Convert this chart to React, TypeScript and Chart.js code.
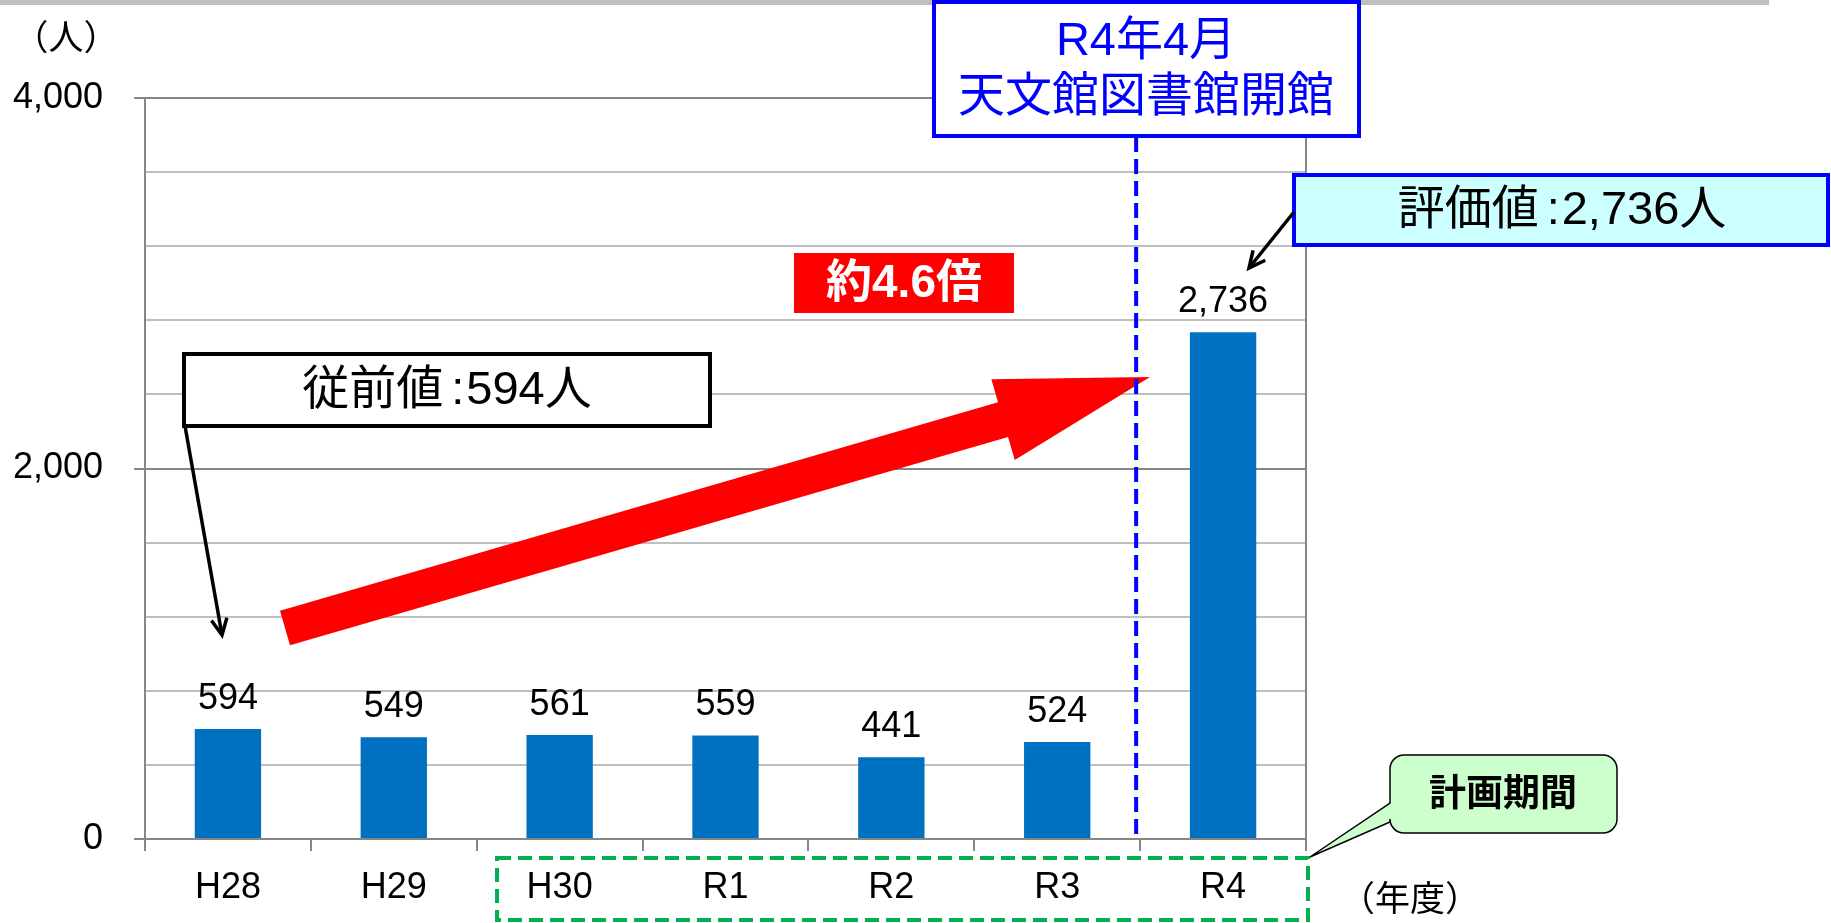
import React, { useEffect, useRef } from 'react';
import { Chart, registerables } from 'chart.js';

Chart.register(...registerables);

const categories = ['H28', 'H29', 'H30', 'R1', 'R2', 'R3', 'R4'];
const visitors = [594, 549, 561, 559, 441, 524, 2736];
const yMin = 0;
const yMax = 4000;
const yStep = 400;
const yLabelValues = [0, 2000, 4000];
const yUnit = '（人）';
const xUnit = '（年度）';
const openingLines = ['R4年4月', '天文館図書館開館'];
const beforeText = '従前値:594人';
const afterText = '評価値:2,736人';
const ratioText = '約4.6倍';
const planText = '計画期間';

const FONT = '"Liberation Sans", Arial, "Noto Sans CJK JP", sans-serif';
const BAR = '#0070C0';
const AXIS = '#868686';
const GRID = '#BFBFBF';

function line(ctx: CanvasRenderingContext2D, x1: number, y1: number, x2: number, y2: number) {
  ctx.beginPath();
  ctx.moveTo(x1, y1);
  ctx.lineTo(x2, y2);
  ctx.stroke();
}

function arrowLine(ctx: CanvasRenderingContext2D, x1: number, y1: number, x2: number, y2: number) {
  line(ctx, x1, y1, x2, y2);
  const a = Math.atan2(y2 - y1, x2 - x1);
  const len = 18;
  const spread = 0.45;
  ctx.beginPath();
  ctx.moveTo(x2 - len * Math.cos(a - spread), y2 - len * Math.sin(a - spread));
  ctx.lineTo(x2, y2);
  ctx.lineTo(x2 - len * Math.cos(a + spread), y2 - len * Math.sin(a + spread));
  ctx.stroke();
}

// draws label text with the colon given small side gaps, as in the source
function labelWithColon(ctx: CanvasRenderingContext2D, text: string, cx: number, cy: number) {
  const [a, b] = text.split(':');
  const gapL = 8;
  const gapR = 2;
  const wa = ctx.measureText(a).width;
  const wc = ctx.measureText(':').width;
  const wb = ctx.measureText(b).width;
  const total = wa + gapL + wc + gapR + wb;
  let x = cx - total / 2;
  ctx.textAlign = 'left';
  ctx.fillText(a, x, cy);
  x += wa + gapL;
  ctx.fillText(':', x, cy);
  x += wc + gapR;
  ctx.fillText(b, x, cy);
  ctx.textAlign = 'center';
}

const annotationPlugin = {
  id: 'annotationPlugin',
  afterDatasetsDraw(chart: any) {
    const ctx: CanvasRenderingContext2D = chart.ctx;
    const meta = chart.getDatasetMeta(0);
    ctx.save();
    ctx.font = `36px ${FONT}`;
    ctx.fillStyle = '#000';
    ctx.textAlign = 'center';
    ctx.textBaseline = 'alphabetic';
    meta.data.forEach((bar: any, i: number) => {
      ctx.fillText(visitors[i].toLocaleString('en-US'), bar.x, bar.y - 20);
    });
    ctx.restore();
  },
  afterDraw(chart: any) {
    const ctx: CanvasRenderingContext2D = chart.ctx;
    const { top, bottom, right } = chart.chartArea;
    const xs = chart.scales.x;
    ctx.save();

    // top gray band
    ctx.fillStyle = '#BFBFBF';
    ctx.fillRect(0, 0, 1769, 5);

    // right border of plot
    ctx.strokeStyle = AXIS;
    ctx.lineWidth = 2;
    line(ctx, right, top, right, bottom);

    // big red block arrow
    const T = { x: 285, y: 628 };
    const P = { x: 1150, y: 377 };
    const dx = P.x - T.x;
    const dy = P.y - T.y;
    const L = Math.hypot(dx, dy);
    const ux = dx / L;
    const uy = dy / L;
    const nx = -uy;
    const ny = ux;
    const hw = 18;
    const headLen = 153;
    const headHw = 42;
    const Bx = P.x - headLen * ux;
    const By = P.y - headLen * uy;
    ctx.fillStyle = '#FF0000';
    ctx.beginPath();
    ctx.moveTo(T.x + nx * hw, T.y + ny * hw);
    ctx.lineTo(Bx + nx * hw, By + ny * hw);
    ctx.lineTo(Bx + nx * headHw, By + ny * headHw);
    ctx.lineTo(P.x, P.y);
    ctx.lineTo(Bx - nx * headHw, By - ny * headHw);
    ctx.lineTo(Bx - nx * hw, By - ny * hw);
    ctx.lineTo(T.x - nx * hw, T.y - ny * hw);
    ctx.closePath();
    ctx.fill();

    // blue dashed divider between R3 and R4
    const divX = (xs.getPixelForValue(5) + xs.getPixelForValue(6)) / 2 - 4;
    ctx.strokeStyle = '#0000FF';
    ctx.lineWidth = 4;
    ctx.setLineDash([15, 7]);
    line(ctx, divX, 137, divX, bottom - 3);
    ctx.setLineDash([]);

    // opening box
    ctx.fillStyle = '#FFFFFF';
    ctx.fillRect(934, 2, 425, 134);
    ctx.strokeStyle = '#0000FF';
    ctx.lineWidth = 4;
    ctx.strokeRect(934, 2, 425, 134);
    ctx.fillStyle = '#0000FF';
    ctx.textAlign = 'center';
    ctx.textBaseline = 'middle';
    ctx.font = `47px ${FONT}`;
    ctx.fillText(openingLines[0], 1146, 42);
    ctx.fillText(openingLines[1], 1146, 98);

    // evaluation value box
    ctx.fillStyle = '#CCFFFF';
    ctx.fillRect(1294, 175, 534, 70);
    ctx.strokeStyle = '#0000FF';
    ctx.lineWidth = 4;
    ctx.strokeRect(1294, 175, 534, 70);
    ctx.fillStyle = '#000';
    ctx.font = `47px ${FONT}`;
    labelWithColon(ctx, afterText, 1562, 211);
    ctx.strokeStyle = '#000';
    ctx.lineWidth = 3.5;
    arrowLine(ctx, 1294, 212, 1249, 268);

    // ratio label
    ctx.fillStyle = '#FF0000';
    ctx.fillRect(794, 253, 220, 60);
    ctx.fillStyle = '#FFFFFF';
    ctx.font = `bold 46px ${FONT}`;
    ctx.fillText(ratioText, 904, 284);

    // previous value box
    ctx.fillStyle = '#FFFFFF';
    ctx.fillRect(184, 354, 526, 72);
    ctx.strokeStyle = '#000';
    ctx.lineWidth = 4;
    ctx.strokeRect(184, 354, 526, 72);
    ctx.fillStyle = '#000';
    ctx.font = `47px ${FONT}`;
    labelWithColon(ctx, beforeText, 447, 391);
    ctx.lineWidth = 3.5;
    arrowLine(ctx, 185, 426, 222, 635);

    // plan period dashed frame
    ctx.strokeStyle = '#00B050';
    ctx.lineWidth = 4;
    ctx.setLineDash([14, 7]);
    ctx.strokeRect(497, 858, 811, 62);
    ctx.setLineDash([]);

    // plan period callout
    const bxl = 1390, byt = 755, bxr = 1617, byb = 833, r = 14;
    ctx.beginPath();
    ctx.moveTo(bxl + r, byt);
    ctx.lineTo(bxr - r, byt);
    ctx.arcTo(bxr, byt, bxr, byt + r, r);
    ctx.lineTo(bxr, byb - r);
    ctx.arcTo(bxr, byb, bxr - r, byb, r);
    ctx.lineTo(bxl + r, byb);
    ctx.arcTo(bxl, byb, bxl, byb - r, r);
    ctx.lineTo(bxl, 822);
    ctx.lineTo(1310, 857);
    ctx.lineTo(bxl, 803);
    ctx.lineTo(bxl, byt + r);
    ctx.arcTo(bxl, byt, bxl + r, byt, r);
    ctx.closePath();
    ctx.fillStyle = '#CCFFCC';
    ctx.fill();
    ctx.strokeStyle = '#000';
    ctx.lineWidth = 1.5;
    ctx.stroke();
    ctx.fillStyle = '#000';
    ctx.font = `bold 37px ${FONT}`;
    ctx.fillText(planText, 1503, 796);

    // unit labels
    ctx.font = `35px ${FONT}`;
    ctx.fillText(yUnit, 66, 40);
    ctx.fillText(xUnit, 1410, 901);

    ctx.restore();
  },
};

export default function App() {
  const canvasRef = useRef<HTMLCanvasElement | null>(null);

  useEffect(() => {
    if (!canvasRef.current) return;
    const chart = new Chart(canvasRef.current, {
      type: 'bar',
      data: {
        labels: categories,
        datasets: [
          {
            data: visitors,
            backgroundColor: BAR,
            borderWidth: 0,
            barPercentage: 0.4,
            categoryPercentage: 1.0,
          },
        ],
      },
      options: {
        responsive: false,
        animation: false,
        events: [],
        layout: { padding: { top: 98, right: 525, left: 0, bottom: 0 } },
        plugins: {
          legend: { display: false },
          tooltip: { enabled: false },
          title: { display: false },
        },
        scales: {
          x: {
            offset: true,
            grid: {
              offset: true,
              drawOnChartArea: false,
              drawTicks: true,
              tickLength: 12,
              color: AXIS,
              lineWidth: 2,
            },
            border: { color: AXIS, width: 2 },
            ticks: {
              font: { size: 36, family: FONT },
              color: '#000',
              padding: 15,
              maxRotation: 0,
              autoSkip: false,
            },
            afterFit(scale: any) {
              scale.height = 84;
            },
          },
          y: {
            min: yMin,
            max: yMax,
            ticks: {
              stepSize: yStep,
              autoSkip: false,
              font: { size: 36, family: FONT },
              color: '#000',
              padding: 31,
              callback: (v: any) => (yLabelValues.includes(Number(v)) ? Number(v).toLocaleString('en-US') : ''),
            },
            grid: {
              color: (c: any) => (c.tick && yLabelValues.includes(c.tick.value) ? AXIS : GRID),
              tickColor: (c: any) => (c.tick && yLabelValues.includes(c.tick.value) ? AXIS : 'rgba(0,0,0,0)'),
              lineWidth: 2,
              tickLength: 11,
            },
            border: { color: AXIS, width: 2 },
            afterFit(scale: any) {
              scale.width = 145;
            },
          },
        },
      },
      plugins: [annotationPlugin],
    } as any);
    return () => chart.destroy();
  }, []);

  return (
    <div style={{ position: 'fixed', left: 0, top: 0, width: 1831, height: 923, background: '#fff' }}>
      <canvas ref={canvasRef} width={1831} height={923} style={{ width: 1831, height: 923, display: 'block' }} />
    </div>
  );
}
